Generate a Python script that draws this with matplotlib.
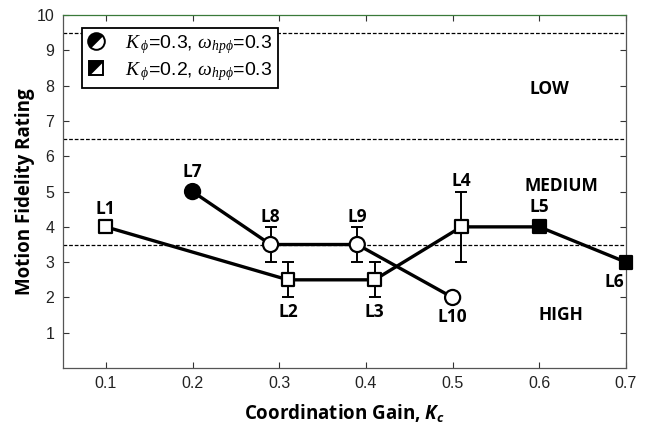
import numpy as np
import matplotlib
matplotlib.use("Agg")
import matplotlib.pyplot as plt
from matplotlib.markers import MarkerStyle
from matplotlib.transforms import Affine2D
from matplotlib.path import Path
from matplotlib.lines import Line2D
from matplotlib.legend_handler import HandlerTuple

plt.rcParams["mathtext.fontset"] = "custom"
plt.rcParams["mathtext.it"] = "Liberation Serif:italic"
plt.rcParams["mathtext.rm"] = "Liberation Sans"
plt.rcParams["mathtext.bf"] = "Open Sans:italic:bold"

# ---------------- data ----------------
circ_x = [0.2, 0.29, 0.39, 0.5]
circ_y = [5.0, 3.5, 3.5, 2.0]
circ_labels = ["L7", "L8", "L9", "L10"]
circ_filled = [True, False, False, False]
circ_err_lo = [0.0, 0.5, 0.5, 0.0]
circ_err_hi = [0.0, 0.5, 0.5, 0.0]

sq_x = [0.1, 0.31, 0.41, 0.51, 0.6, 0.7]
sq_y = [4.0, 2.5, 2.5, 4.0, 4.0, 3.0]
sq_labels = ["L1", "L2", "L3", "L4", "L5", "L6"]
sq_filled = [False, False, False, False, True, True]
sq_err_lo = [0.0, 0.5, 0.5, 1.0, 0.0, 0.0]
sq_err_hi = [0.0, 0.5, 0.5, 1.0, 0.0, 0.0]

boundaries = [9.5, 6.5, 3.5]
regions = ["LOW", "MEDIUM", "HIGH"]
region_y = [7.9, 5.15, 1.5]
region_x = [0.612, 0.625, 0.625]

xticks = [0.1, 0.2, 0.3, 0.4, 0.5, 0.6, 0.7]
yticks = [1, 2, 3, 4, 5, 6, 7, 8, 9, 10]

legend_labels = [r"$K_{\;\phi}$=0.3, $\omega_{hp\phi}$=0.3",
                 r"$K_{\;\phi}$=0.2, $\omega_{hp\phi}$=0.3"]

# label offsets in points (dx, dy)
circ_off = [(0, 14.4), (0, 20), (0, 20), (0, -13.7)]
sq_off = [(0, 13), (0, -23), (0, -23), (0, 33), (0, 14.6), (-8.6, -14.4)]

# ---------------- figure ----------------
fig = plt.figure(figsize=(6.52, 4.30), dpi=100)
ax = fig.add_axes([0.0959, 0.144, 0.8642, 0.821])

bold_font = dict(family="Open Sans", weight="bold")

for b in boundaries:
    ax.axhline(b, color="black", lw=0.9, ls=(0, (3, 1.5)), zorder=1)

lw = 2.4
ax.plot(circ_x, circ_y, color="black", lw=lw, zorder=2)
ax.plot(sq_x, sq_y, color="black", lw=lw, zorder=2)

def draw_err(xs, ys, lo, hi):
    idx = [i for i in range(len(xs)) if lo[i] > 0 or hi[i] > 0]
    ax.errorbar([xs[i] for i in idx], [ys[i] for i in idx],
                yerr=[[lo[i] for i in idx], [hi[i] for i in idx]],
                fmt="none", ecolor="black", elinewidth=1.4, capsize=4.0,
                capthick=1.4, zorder=3)

draw_err(circ_x, circ_y, circ_err_lo, circ_err_hi)
draw_err(sq_x, sq_y, sq_err_lo, sq_err_hi)

ax.scatter(circ_x, circ_y, s=118, marker="o",
           facecolors=["black" if f else "white" for f in circ_filled],
           edgecolors="black", linewidths=1.6, zorder=4, clip_on=False)
ax.scatter(sq_x, sq_y, s=85, marker="s",
           facecolors=["black" if f else "white" for f in sq_filled],
           edgecolors="black", linewidths=1.6, zorder=4, clip_on=False)

for x, y, t, off in zip(circ_x, circ_y, circ_labels, circ_off):
    ax.annotate(t, (x, y), xytext=off, textcoords="offset points",
                ha="center", va="center", fontsize=12.5, **bold_font, zorder=5)
for x, y, t, off in zip(sq_x, sq_y, sq_labels, sq_off):
    ax.annotate(t, (x, y), xytext=off, textcoords="offset points",
                ha="center", va="center", fontsize=12.5, **bold_font, zorder=5)

for x, y, t in zip(region_x, region_y, regions):
    ax.text(x, y, t, ha="center", va="center", fontsize=12.5, **bold_font)

ax.set_xlim(0.05, 0.7)
ax.set_ylim(0, 10)
ax.set_xticks(xticks)
ax.set_xticklabels([f"{v:.1f}" for v in xticks])
ax.set_yticks(yticks)
ax.tick_params(direction="in", top=True, right=True, length=4, width=0.8,
               labelsize=11.5, colors="#333333", pad=6)
for lab in ax.get_xticklabels() + ax.get_yticklabels():
    lab.set_family("Liberation Sans")
    lab.set_color("#222222")
for s in ax.spines.values():
    s.set_color("#555555")
    s.set_linewidth(0.9)
ax.spines["top"].set_color("#3a7a3a")

ax.set_xlabel(r"Coordination Gain, $\mathbf{K_c}$",
              fontsize=13.5, **bold_font, labelpad=8)
ax.set_ylabel("Motion Fidelity Rating", fontsize=13.5, **bold_font, labelpad=1)

# legend with diagonal half-filled markers
circ_half = MarkerStyle("o", fillstyle="top", transform=Affine2D().rotate_deg(45))
tri = Path([(-1, -1), (-1, 1), (1, 1), (-1, -1)],
           [Path.MOVETO, Path.LINETO, Path.LINETO, Path.CLOSEPOLY])
h1 = Line2D([], [], ls="none", marker=circ_half, markersize=12,
            markerfacecolor="black", markerfacecoloralt="white",
            markeredgecolor="black", markeredgewidth=1.4)
h2a = Line2D([], [], ls="none", marker="s", markersize=10,
             markerfacecolor="white", markeredgecolor="black", markeredgewidth=1.4)
h2b = Line2D([], [], ls="none", marker=tri, markersize=10,
             markerfacecolor="black", markeredgecolor="black", markeredgewidth=0.5)
leg = ax.legend([h1, (h2a, h2b)], legend_labels,
                handler_map={tuple: HandlerTuple(ndivide=1, pad=0)},
                loc="upper left", bbox_to_anchor=(0.034, 0.963),
                fancybox=False, framealpha=1, edgecolor="black",
                prop={"family": "Liberation Sans", "size": 14},
                handlelength=1.0, handletextpad=1.0, borderpad=0.25,
                labelspacing=0.2, borderaxespad=0)
leg.get_frame().set_linewidth(1.3)

fig.savefig("out.png", dpi=100)
